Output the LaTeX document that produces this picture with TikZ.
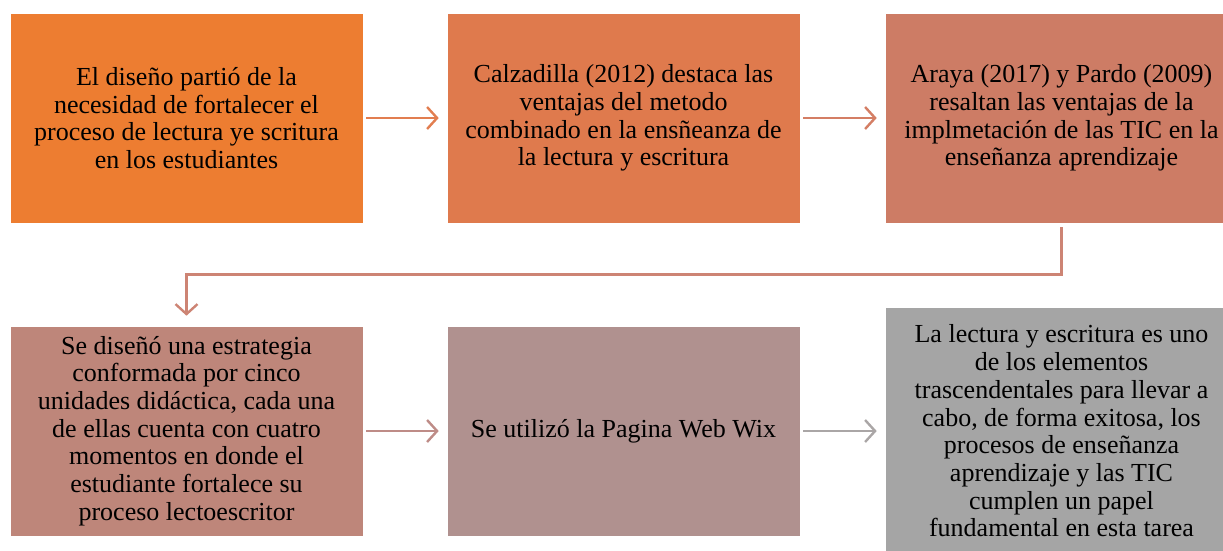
\documentclass[tikz,border=0pt]{standalone}
\usepackage{fontspec}
\setmainfont{Liberation Serif}
\usetikzlibrary{arrows.meta}

\definecolor{pasoA}{RGB}{237,125,49}
\definecolor{pasoB}{RGB}{223,122,77}
\definecolor{pasoC}{RGB}{205,124,101}
\definecolor{pasoD}{RGB}{190,134,122}
\definecolor{pasoE}{RGB}{176,145,143}
\definecolor{pasoF}{RGB}{165,165,165}

\tikzset{
	paso/.style={rectangle, minimum width=353pt, minimum height=210pt, inner sep=0pt,
		align=center, draw=white, line width=0.6pt, font=\fontsize{26}{27.7}\selectfont},
	flecha/.style={line width=2.4pt, -{Straight Barb[length=10pt, width=22pt]},
		shorten <=3pt, shorten >=8pt}
}

\begin{document}
\begin{tikzpicture}[x=1pt, y=-1pt]
	\useasboundingbox (0,0) rectangle (1223,550);
	\clip (0,0) rectangle (1223,550);
	
	%Fila superior
	\node[paso, fill=pasoA] (n1) at (186.5,118) {El diseño partió de la\\necesidad de fortalecer el\\proceso de lectura ye scritura\\en los estudiantes};
	\node[paso, fill=pasoB] (n2) at (623.5,118) {Calzadilla (2012) destaca las\\ventajas del metodo\\combinado en la ensñeanza de\\la lectura y escritura};
	\node[paso, fill=pasoC] (n3) at (1061.5,118) {Araya (2017) y Pardo (2009)\\resaltan las ventajas de la\\implmetación de las TIC en la\\enseñanza aprendizaje};
	
	%Fila inferior
	\node[paso, fill=pasoD] (n4) at (186.5,431) {Se diseñó una estrategia\\conformada por cinco\\unidades didáctica, cada una\\de ellas cuenta con cuatro\\momentos en donde el\\estudiante fortalece su\\proceso lectoescritor};
	\node[paso, fill=pasoE] (n5) at (623.5,431) {Se utilizó la Pagina Web Wix};
	\node[paso, fill=pasoF, minimum height=248pt] (n6) at (1061.5,431) {La lectura y escritura es uno\\de los elementos\\trascendentales para llevar a\\cabo, de forma exitosa, los\\procesos de enseñanza\\aprendizaje y las TIC\\cumplen un papel\\fundamental en esta tarea};
	
	%Flechas
	\draw[flecha, draw={rgb,255:red,226;green,126;blue,80}] (n1) -- (n2);
	\draw[flecha, draw={rgb,255:red,212;green,126;blue,100}] (n2) -- (n3);
	\draw[flecha, draw={rgb,255:red,205;green,132;blue,116}, shorten <=4pt, shorten >=10pt] (n3.south) -- ++(0,51) -| (n4.north);
	\draw[flecha, draw={rgb,255:red,190;green,140;blue,135}] (n4) -- (n5);
	\draw[flecha, draw={rgb,255:red,170;green,166;blue,166}] (n5) -- (n6.west |- n5);
\end{tikzpicture}
\end{document}
